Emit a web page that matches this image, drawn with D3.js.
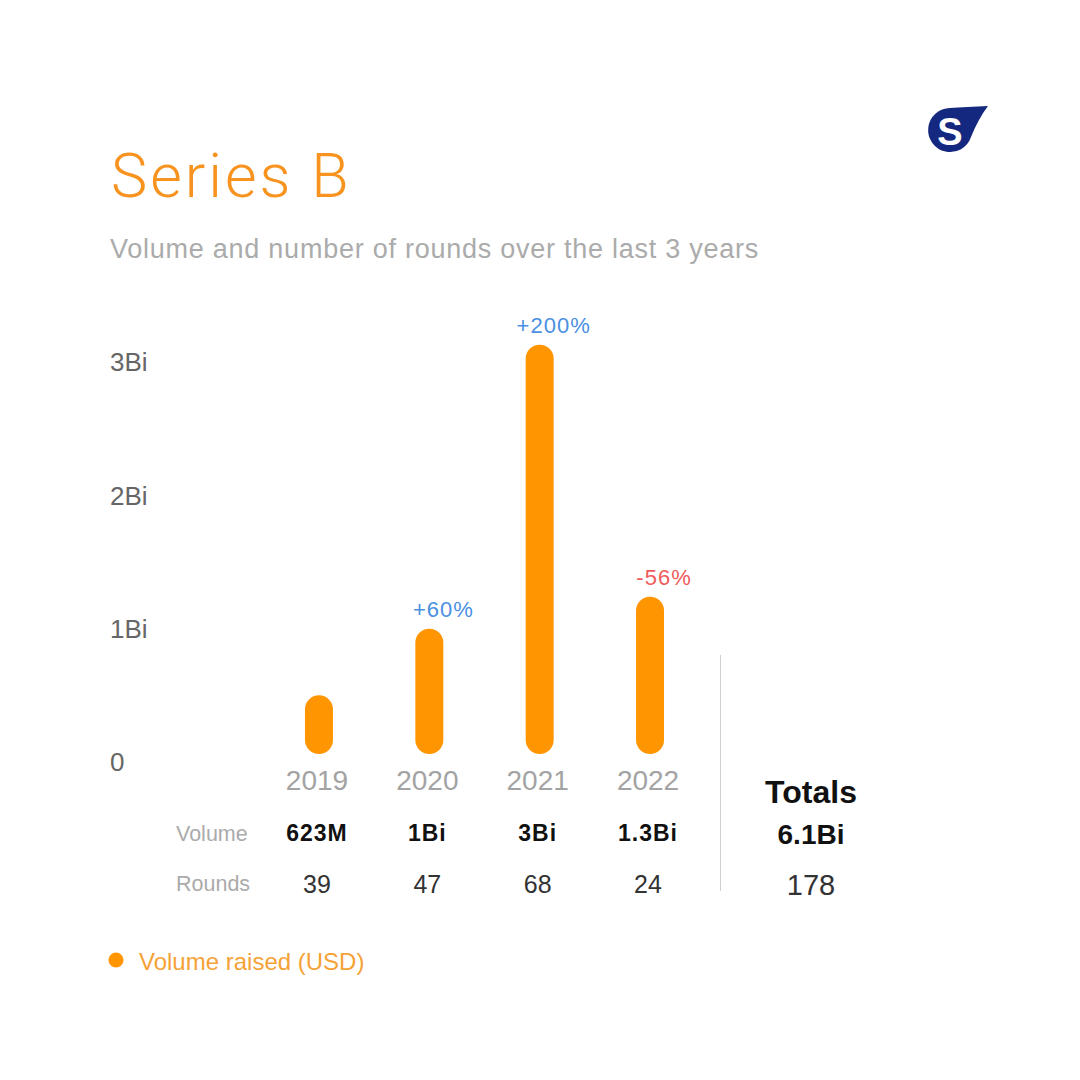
<!DOCTYPE html>
<html>
<head>
<meta charset="utf-8">
<script src="https://cdn.jsdelivr.net/npm/d3@7"></script>
<style>
  html, body { margin: 0; padding: 0; background: #ffffff; }
  svg { display: block; font-family: "Liberation Sans", Arial, sans-serif; }
</style>
</head>
<body>
<svg id="chart" width="1080" height="1080"></svg>
<script>
// ---- data ----
const years = ["2019", "2020", "2021", "2022"];
// bar heights as drawn, in billions USD
const barHeights = [0.50, 1.00, 3.13, 1.24];
const volumeLabels = ["623M", "1Bi", "3Bi", "1.3Bi"];
const rounds = [39, 47, 68, 24];
const changeLabels = ["", "+60%", "+200%", "-56%"];
const yTicks = [0, 1, 2, 3];
const yTickLabels = ["0", "1Bi", "2Bi", "3Bi"];
const totalVolume = "6.1Bi";
const totalRounds = 178;
const titleText = "Series B";
const subtitleText = "Volume and number of rounds over the last 3 years";
const legendText = "Volume raised (USD)";

// ---- styles ----
const ORANGE = "#FF9500";
const TITLE_ORANGE = "#F7931E";
const BLUE = "#4A90E2";
const RED = "#EF5B5B";

const svg = d3.select("#chart");
svg.append("rect").attr("width", 1080).attr("height", 1080).attr("fill", "#fff");

// logo
const logo = svg.append("g");
logo.append("path")
  .attr("d", "M988,106 C975,107 960,107 950,108 A22,22 0 1 0 971,137 C976,125 981,115 988,106 Z")
  .attr("fill", "#14287F");
logo.append("text").attr("x", 950).attr("y", 131).attr("dy", "0.36em")
  .attr("text-anchor", "middle").attr("font-size", 38).attr("font-weight", "bold")
  .attr("fill", "#fff").text("S");

// title & subtitle
svg.append("text").attr("x", 111).attr("y", 197)
  .attr("font-family", "Roboto, 'Liberation Sans', sans-serif")
  .attr("font-size", 61).attr("font-weight", 300).attr("letter-spacing", 3)
  .attr("fill", TITLE_ORANGE)
  .text(titleText);
svg.append("text").attr("x", 110).attr("y", 258)
  .attr("font-size", 27).attr("letter-spacing", 0.75).attr("fill", "#ABABAB")
  .text(subtitleText);

// scales
const y = d3.scaleLinear().domain([0, 3]).range([762, 362]);
const x = d3.scaleBand().domain(years).range([261.8, 703.2]);
const cx = d => x(d) + x.bandwidth() / 2;

// y tick labels
svg.append("g").selectAll("text").data(yTicks).join("text")
  .attr("x", 110).attr("y", d => y(d)).attr("dy", "0.36em")
  .attr("font-size", 26).attr("fill", "#666")
  .text((d, i) => yTickLabels[i]);

// bars
const barW = 28;
svg.append("g").selectAll("rect").data(years).join("rect")
  .attr("x", d => cx(d) + 2 - barW / 2)
  .attr("y", (d, i) => y(barHeights[i]))
  .attr("width", barW)
  .attr("height", (d, i) => y(0) - 8 - y(barHeights[i]))
  .attr("rx", barW / 2).attr("ry", barW / 2)
  .attr("fill", ORANGE);

// change labels
svg.append("g").selectAll("text").data(years).join("text")
  .attr("x", d => cx(d) + 16)
  .attr("y", (d, i) => y(barHeights[i]) - 12)
  .attr("text-anchor", "middle")
  .attr("font-size", 22).attr("letter-spacing", 1)
  .attr("fill", (d, i) => changeLabels[i].startsWith("-") ? RED : BLUE)
  .text((d, i) => changeLabels[i]);

// year labels
svg.append("g").selectAll("text").data(years).join("text")
  .attr("x", d => cx(d)).attr("y", 780).attr("dy", "0.36em")
  .attr("text-anchor", "middle").attr("font-size", 28).attr("fill", "#A3A3A3")
  .text(d => d);

// table row labels
svg.append("text").attr("x", 176).attr("y", 833).attr("dy", "0.36em")
  .attr("font-size", 21.5).attr("fill", "#ABABAB").text("Volume");
svg.append("text").attr("x", 176).attr("y", 883).attr("dy", "0.36em")
  .attr("font-size", 21.5).attr("fill", "#ABABAB").text("Rounds");

// volume row
svg.append("g").selectAll("text").data(years).join("text")
  .attr("x", d => cx(d)).attr("y", 833).attr("dy", "0.36em")
  .attr("text-anchor", "middle").attr("font-size", 23).attr("font-weight", "bold")
  .attr("letter-spacing", 1).attr("fill", "#111")
  .text((d, i) => volumeLabels[i]);

// rounds row
svg.append("g").selectAll("text").data(years).join("text")
  .attr("x", d => cx(d)).attr("y", 884).attr("dy", "0.36em")
  .attr("text-anchor", "middle").attr("font-size", 25).attr("fill", "#333")
  .text((d, i) => rounds[i]);

// separator
svg.append("line").attr("x1", 720.5).attr("x2", 720.5).attr("y1", 655).attr("y2", 891)
  .attr("stroke", "#D0D0D0").attr("stroke-width", 1);

// totals
svg.append("text").attr("x", 811).attr("y", 791).attr("dy", "0.36em")
  .attr("text-anchor", "middle").attr("font-size", 32).attr("font-weight", "bold")
  .attr("fill", "#111").text("Totals");
svg.append("text").attr("x", 811).attr("y", 834).attr("dy", "0.36em")
  .attr("text-anchor", "middle").attr("font-size", 28).attr("font-weight", "bold")
  .attr("fill", "#111").text(totalVolume);
svg.append("text").attr("x", 811).attr("y", 885).attr("dy", "0.36em")
  .attr("text-anchor", "middle").attr("font-size", 29).attr("fill", "#333")
  .text(totalRounds);

// legend
svg.append("circle").attr("cx", 116).attr("cy", 960).attr("r", 7.5).attr("fill", ORANGE);
svg.append("text").attr("x", 139).attr("y", 961).attr("dy", "0.36em")
  .attr("font-size", 24).attr("fill", "#F5A236").text(legendText);
</script>
</body>
</html>
